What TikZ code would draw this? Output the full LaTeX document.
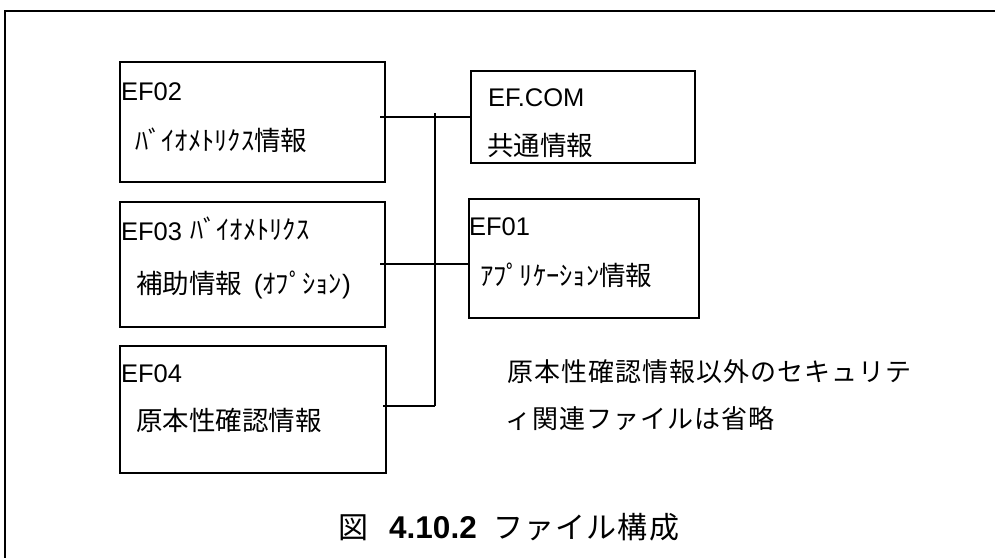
\documentclass[tikz,border=0pt]{standalone}
\usepackage{fontspec}
\setmainfont{Liberation Sans}
\newfontfamily\jp{Noto Sans CJK JP}
\newfontfamily\jpnote[LetterSpace=4]{Noto Sans CJK JP}
\newfontfamily\jptitle[LetterSpace=4]{Noto Sans CJK JP}
\begin{document}
\begin{tikzpicture}[x=1pt,y=-1pt,
  filebox/.style={draw,line width=2pt,anchor=north west,inner sep=0,outer sep=0},
  lab/.style={inner sep=0,outer sep=0,anchor=base west,font=\fontsize{25.5}{30}\selectfont},
  jtxt/.style={inner sep=0,outer sep=0,anchor=base west,font=\fontsize{26.5}{30}\selectfont\jp},
  conn/.style={line width=1.8pt},
  frame/.style={line width=2.5pt}]
\useasboundingbox (0,0) rectangle (995,558);
\draw[frame] (995,11) -- (5,11) -- (5,558);
% boxes
\node[filebox,minimum width=265pt,minimum height=120pt] (ef02) at (120,62) {};
\node[filebox,minimum width=265pt,minimum height=125.5pt] (ef03) at (120,201.5) {};
\node[filebox,minimum width=266pt,minimum height=127.3pt] (ef04) at (120,345.7) {};
\node[filebox,minimum width=224pt,minimum height=92pt] (efcom) at (471,71) {};
\node[filebox,minimum width=230pt,minimum height=119pt] (ef01) at (469,199) {};
% bus
\coordinate (bustop) at (435,113);
\coordinate (busbot) at (435,406);
\draw[conn] (bustop) -- (busbot);
\draw[conn] ([xshift=-5pt]efcom.west -| ef02.east) -- (efcom.west);
\draw[conn] ([xshift=-5pt]ef03.east) -- (ef03.east -| ef01.west);
\draw[conn] ([xshift=-3pt]ef04.east |- busbot) -- (busbot);
% labels
\node[lab] (t02) at (121,100.5) {EF02};
\node[jtxt] (j02) at (135,150) {ﾊﾞｲｵﾒﾄﾘｸｽ情報};
\node[lab] (t03) at (121,240) {EF03};
\node[jtxt] (j03a) at (190,239.5) {ﾊﾞｲｵﾒﾄﾘｸｽ};
\node[jtxt] (j03b) at (136,293.5) {補助情報\ \ {\rmfamily(}ｵﾌﾟｼｮﾝ{\rmfamily)}};
\node[lab] (t04) at (121,382.7) {EF04};
\node[jtxt] (j04) at (136,430) {原本性確認情報};
\node[lab] (tcom) at (488,106.7) {EF.COM};
\node[jtxt] (jcom) at (487,155) {共通情報};
\node[lab] (t01) at (469,235) {EF01};
\node[jtxt] (j01) at (480,285) {ｱﾌﾟﾘｹｰｼｮﾝ情報};
\node[inner sep=0,anchor=base west,font=\fontsize{26}{30}\selectfont\jpnote] (n1) at (507,381.5) {原本性確認情報以外のセキュリテ};
\node[inner sep=0,anchor=base west,font=\fontsize{26}{30}\selectfont\jpnote] (n2) at (505,428.5) {ィ関連ファイルは省略};
% title
\node[inner sep=0,anchor=base west,font=\fontsize{30}{34}\selectfont\jp] (fig) at (338,538) {図};
\node[inner sep=0,anchor=base west,font=\fontsize{31.5}{34}\selectfont\bfseries] (num) at (389,538) {4.10.2};
\node[inner sep=0,anchor=base west,font=\fontsize{30}{34}\selectfont\jptitle] (ttl) at (493,538) {ファイル構成};
\end{tikzpicture}
\end{document}
